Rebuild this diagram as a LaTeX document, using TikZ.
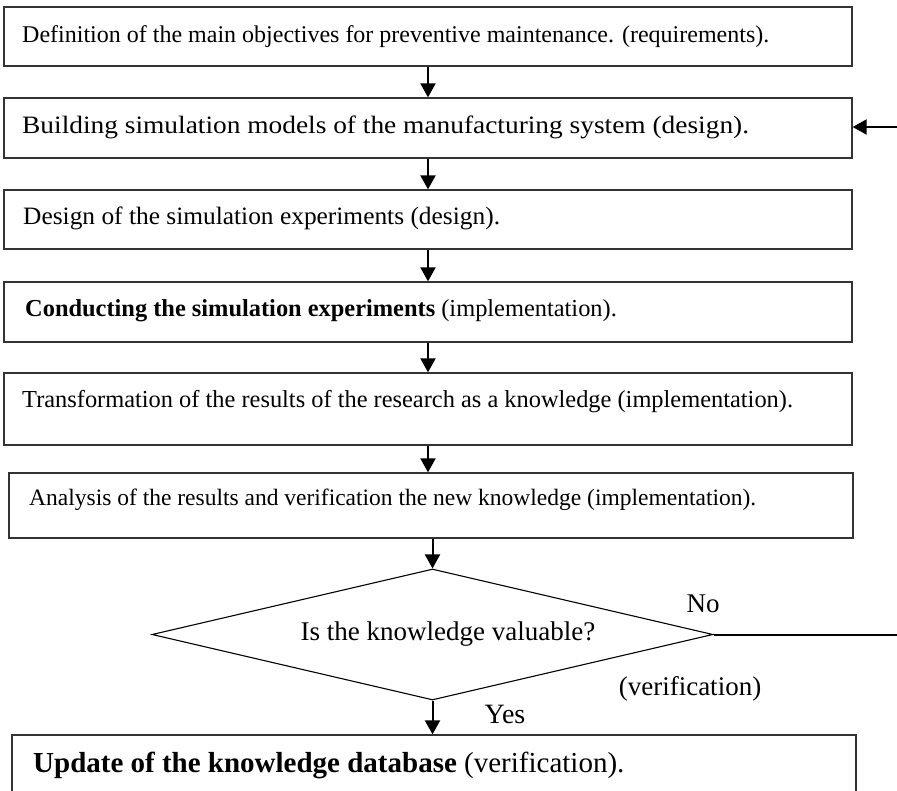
\documentclass[tikz,border=0pt]{standalone}
\usepackage{fontspec}
\setmainfont{Liberation Serif}
\usetikzlibrary{arrows.meta,shapes.geometric}
\newcommand{\fs}[1]{\fontsize{#1}{#1}\selectfont}
\begin{document}
\begin{tikzpicture}[x=1pt,y=-1pt,
  box/.style={draw=black!80, line width=1.3pt, rectangle, inner sep=0pt},
  txt/.style={anchor=west, inner sep=0pt},
  lbl/.style={inner sep=0pt, font=\fs{27}},
  arr/.style={line width=2pt, -{Triangle[length=14pt,width=15pt]}},
  decision/.style={draw, diamond, line width=1.1pt, inner sep=0pt}]
\useasboundingbox (0,0) rectangle (897,791);
\clip (0,0) rectangle (897,791);

% process boxes
\node[box, minimum width=848pt, minimum height=59pt] (b1) at (428,36.5) {};
\node[box, minimum width=848pt, minimum height=60pt] (b2) at (428,128) {};
\node[box, minimum width=848pt, minimum height=59pt] (b3) at (428,219.5) {};
\node[box, minimum width=848pt, minimum height=60pt] (b4) at (428,312) {};
\node[box, minimum width=848pt, minimum height=72pt] (b5) at (428,409) {};
\node[box, minimum width=844pt, minimum height=65pt] (b6) at (431,505.5) {};
\node[box, minimum width=844pt, minimum height=70pt] (b7) at (434,770) {};

% decision
\node[decision, minimum width=561pt, minimum height=131pt] (d) at (432.5,634.5) {};

% box texts
\node[txt, font=\fs{24}] (t1) at (22,37) {Definition of the main objectives for preventive maintenance. (requirements).};
\node[txt, font=\fs{25}, xscale=1.095] (t2) at (22,127) {Building simulation models of the manufacturing system (design).};
\node[txt, font=\fs{25}, xscale=1.016] (t3) at (23,218) {Design of the simulation experiments (design).};
\node[txt, font=\fs{24.4}] (t4) at (25,311) {\textbf{Conducting the simulation experiments} (implementation).};
\node[txt, font=\fs{24.4}] (t5) at (22,402) {Transformation of the results of the research as a knowledge (implementation).};
\node[txt, font=\fs{23.5}] (t6) at (29,500) {Analysis of the results and verification the new knowledge (implementation).};
\node[txt, font=\fs{29}] (t7) at (33,765) {\textbf{Update of the knowledge database} (verification).};
\node[lbl] (dq) at (448,634) {Is the knowledge valuable?};
\node[lbl] (no) at (703,604) {No};
\node[lbl] (ver) at (690,689) {(verification)};
\node[lbl, font=\fs{28}] (yes) at (505,714) {Yes};

% connectors
\draw[arr] (b1.south) -- (b2.north);
\draw[arr] (b2.south) -- (b3.north);
\draw[arr] (b3.south) -- (b4.north);
\draw[arr] (b4.south) -- (b5.north);
\draw[arr] (b5.south) -- (b5.south |- b6.north);
\draw[arr] (d.north |- b6.south) -- (d.north);
\draw[arr] (d.south) -- (d.south |- b7.north);

\coordinate (back) at (897,127);
\coordinate (noend) at (897,634.5);
\draw[arr] (back) -- (b2.east |- back);
\draw[line width=2pt] (d.east) -- (noend);
\end{tikzpicture}
\end{document}
